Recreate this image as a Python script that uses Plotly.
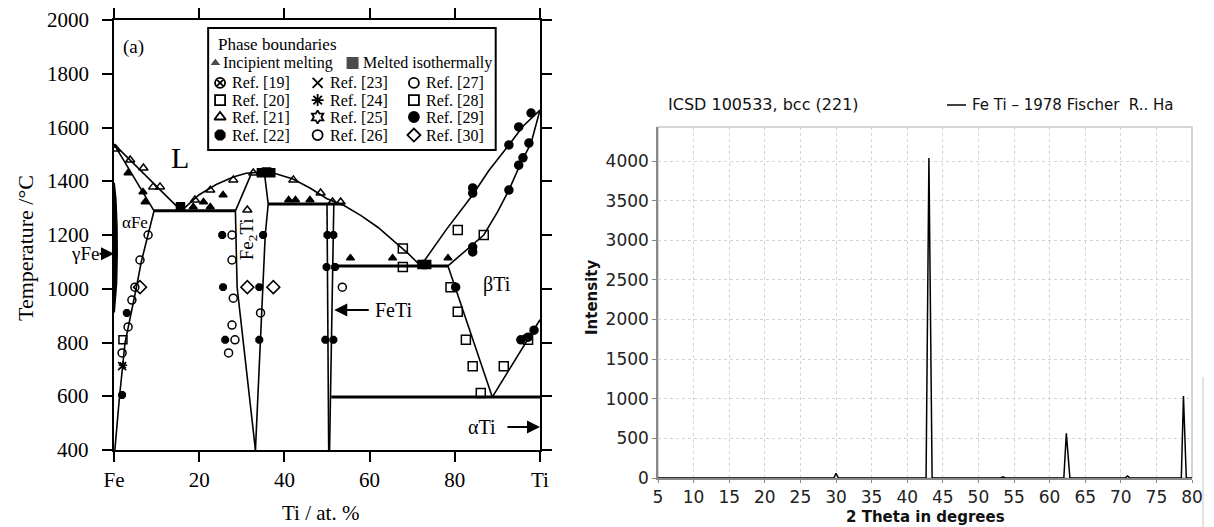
import plotly.graph_objects as go

W, H = 1214, 527


def px(x):
    return x / W


def py(y):
    return 1 - y / H


SERIF = "Liberation Serif"
SANS = "DejaVu Sans"

# ---------------- Fe–Ti phase diagram (Ti at.% , temperature °C) ----------------
temp_ticks = [400, 600, 800, 1000, 1200, 1400, 1600, 1800, 2000]
comp_ticks = [0, 20, 40, 60, 80, 100]
comp_labels = ["Fe", "20", "40", "60", "80", "Ti"]

liquidus_fe_x = [0, 4, 8, 12, 15.8]
liquidus_fe_t = [1538, 1476, 1413, 1350, 1290]
solidus_fe_x = [0, 9.4]
solidus_fe_t = [1538, 1290]
solvus_fe_x = [9.4, 8.0, 6.4, 5.2, 3.9, 2.6, 1.3, 0.2]
solvus_fe_t = [1290, 1200, 1100, 1000, 900, 800, 600, 400]
gamma_loop_x = [0, 0.4, 0.65, 0.7, 0.55, 0.3, 0]
gamma_loop_t = [1394, 1330, 1230, 1130, 1020, 950, 912]
dome_x = [15.8, 20, 24, 28, 31, 34.4, 38, 42, 46, 50, 54, 58, 62, 66, 69, 72]
dome_t = [1290, 1350, 1388, 1416, 1430, 1434, 1428, 1408, 1375, 1335, 1310, 1272, 1228, 1172, 1132, 1085]
fe2ti_left_x = [32.3, 28.5, 28.9, 33.2]
fe2ti_left_t = [1430, 1290, 1006, 400]
fe2ti_right_x = [35.3, 36.2, 35.5, 34.4, 33.2]
fe2ti_right_t = [1432, 1315, 1200, 810, 400]
feti_left_x = [50.0, 50.4]
feti_left_t = [1315, 400]
feti_right_x = [51.6, 50.6]
feti_right_t = [1315, 400]
liquidus_ti_x = [72, 78, 84, 88, 92.7, 96, 100]
liquidus_ti_t = [1085, 1220, 1345, 1440, 1535, 1605, 1665]
solidus_ti_x = [78.4, 82, 86.8, 90, 92.7, 95.5, 97.9, 100]
solidus_ti_t = [1085, 1135, 1200, 1285, 1367, 1468, 1542, 1665]
beta_solvus_x = [78.4, 88.8]
beta_solvus_t = [1085, 597]
alpha_transus_x = [88.8, 100]
alpha_transus_t = [597, 885]

# invariant isotherms
eutectic_fe2ti_x = [9.4, 28.5]
eutectic_fe2ti_t = [1290, 1290]
peritectic_feti_x = [36.2, 54.0]
peritectic_feti_t = [1315, 1315]
eutectic_feti_x = [51.5, 78.4]
eutectic_feti_t = [1085, 1085]
eutectoid_x = [51.0, 100]
eutectoid_t = [597, 597]

# ---------------- experimental points ----------------
incipient_x = [3.3, 6.8, 7.3, 18.6, 21.0, 22.6, 25.6, 41.0, 42.6, 46.0, 55.5, 65.4, 78.4]
incipient_t = [1431, 1360, 1323, 1304, 1323, 1304, 1349, 1330, 1330, 1330, 1114, 1114, 1114]
melted_x = [15.6, 34.6, 35.8, 36.8, 72.3, 73.4]
melted_t = [1305, 1432, 1434, 1432, 1090, 1090]
ref20_x = [2.1]
ref20_t = [810]
ref21_x = [0.4, 3.8, 6.9, 9.2, 10.8, 19.0, 22.6, 28.0, 32.7, 31.3, 42.1, 48.5, 51.3, 53.2]
ref21_t = [1520, 1479, 1449, 1379, 1379, 1330, 1367, 1405, 1431, 1293, 1405, 1356, 1323, 1323]
ref22_x = [1.9, 3.0, 25.4, 35.0, 25.6, 34.1, 34.1, 26.1, 50.1, 51.5, 49.9, 51.9, 49.6, 51.5]
ref22_t = [605, 910, 1200, 1200, 1006, 1006, 810, 810, 1200, 1200, 1081, 1081, 810, 810]
ref23_x = [1.9]
ref23_t = [712]
ref24_x = [2.1]
ref24_t = [715]
ref27_x = [4.9, 4.2, 3.3, 1.9, 8.0, 6.1, 27.7, 27.7, 28.0, 27.7, 26.9, 28.4, 34.4, 53.6]
ref27_t = [1006, 958, 858, 761, 1200, 1107, 1200, 1107, 965, 865, 761, 810, 910, 1006]
ref28_x = [80.7, 67.8, 86.8, 67.8, 79.0, 80.7, 82.6, 84.2, 86.1, 91.5, 97.2]
ref28_t = [1219, 1150, 1200, 1081, 1006, 914, 810, 712, 612, 712, 810]
ref29_x = [84.2, 84.2, 92.7, 95.0, 97.9, 84.2, 84.2, 92.7, 95.0, 96.0, 97.4, 80.2, 95.5, 97.2, 98.6]
ref29_t = [1375, 1356, 1535, 1602, 1654, 1155, 1137, 1367, 1460, 1487, 1542, 1006, 810, 820, 846]
ref30_x = [6.1, 31.3, 37.4]
ref30_t = [1006, 1006, 1006]

# legend entries: (label, symbol)
legend_labels = ["Ref. [19]", "Ref. [20]", "Ref. [21]", "Ref. [22]",
                 "Ref. [23]", "Ref. [24]", "Ref. [25]", "Ref. [26]",
                 "Ref. [27]", "Ref. [28]", "Ref. [29]", "Ref. [30]"]
legend_symbols = ["circle-x-open", "square-open", "triangle-up-open", "octagon",
                  "x-thin-open", "asterisk-open", "hexagram-open", "circle-open",
                  "circle-open", "square-open", "circle", "diamond-open"]

# ---------------- XRD pattern: FeTi (ICSD 100533) ----------------
two_theta = [5, 29.7, 30.0, 30.35, 42.65, 43.05, 43.5, 53.1, 53.45, 53.8,
             62.0, 62.35, 62.85, 70.6, 70.95, 71.3, 78.5, 78.8, 79.2, 80]
intensity = [0, 0, 60, 0, 0, 4040, 0, 0, 15, 0,
             0, 565, 0, 0, 25, 0, 0, 1035, 0, 0]

fig = go.Figure()


def note(text, x, y, ref="data", size=16, family=SERIF, color="black",
         xanchor="center", angle=0, xref=None, yref=None):
    if ref == "data":
        xr, yr = "x", "y"
    else:
        xr, yr = "paper", "paper"
    fig.add_annotation(x=x, y=y, xref=xref or xr, yref=yref or yr, text=text,
                       showarrow=False, xanchor=xanchor, yanchor="middle",
                       textangle=angle,
                       font=dict(family=family, size=size, color=color))


def boundary(xs, ts, width=1.6):
    fig.add_trace(go.Scatter(x=xs, y=ts, mode="lines", xaxis="x", yaxis="y",
                             line=dict(color="black", width=width),
                             showlegend=False, hoverinfo="skip"))


for xs, ts in [(liquidus_fe_x, liquidus_fe_t), (solidus_fe_x, solidus_fe_t),
               (solvus_fe_x, solvus_fe_t), (dome_x, dome_t),
               (fe2ti_left_x, fe2ti_left_t), (fe2ti_right_x, fe2ti_right_t),
               (feti_left_x, feti_left_t), (feti_right_x, feti_right_t),
               (liquidus_ti_x, liquidus_ti_t), (solidus_ti_x, solidus_ti_t),
               (beta_solvus_x, beta_solvus_t), (alpha_transus_x, alpha_transus_t)]:
    boundary(xs, ts)

for xs, ts in [(eutectic_fe2ti_x, eutectic_fe2ti_t), (peritectic_feti_x, peritectic_feti_t),
               (eutectic_feti_x, eutectic_feti_t), (eutectoid_x, eutectoid_t)]:
    boundary(xs, ts, width=3)

fig.add_trace(go.Scatter(x=gamma_loop_x, y=gamma_loop_t, mode="lines", fill="toself",
                         fillcolor="black", line=dict(color="black", width=2),
                         xaxis="x", yaxis="y", showlegend=False, hoverinfo="skip"))


def points(xs, ts, symbol, size=8, lw=1.5):
    fig.add_trace(go.Scatter(x=xs, y=ts, mode="markers", xaxis="x", yaxis="y",
                             marker=dict(symbol=symbol, size=size, color="black",
                                         line=dict(color="black", width=lw)),
                             showlegend=False, hoverinfo="skip"))


points(incipient_x, incipient_t, "triangle-up", 7)
points(melted_x, melted_t, "square", 8)
points(ref20_x, ref20_t, "square-open", 8)
points(ref21_x, ref21_t, "triangle-up-open", 8)
points(ref22_x, ref22_t, "octagon", 7)
points(ref23_x, ref23_t, "x-thin-open", 8)
points(ref24_x, ref24_t, "asterisk-open", 7)
points(ref27_x, ref27_t, "circle-open", 8)
points(ref28_x, ref28_t, "square-open", 9)
points(ref29_x, ref29_t, "circle", 8)
points(ref30_x, ref30_t, "diamond-open", 10)

# ---- legend block inside the diagram ----
fig.add_shape(type="rect", xref="x", yref="y", x0=22.1, x1=89.6, y0=1516, y1=1970,
              line=dict(color="black", width=2), fillcolor="white", layer="below")

legend_col_x = [24.9, 47.8, 70.4]
legend_row_t = [1766, 1702, 1639, 1572]
sym_x, sym_t, sym_s = [], [], []
for i, (lab, sym) in enumerate(zip(legend_labels, legend_symbols)):
    c, r = divmod(i, 4)
    sym_x.append(legend_col_x[c])
    sym_t.append(legend_row_t[r])
    sym_s.append(sym)
    note(lab, legend_col_x[c] + 2.4, legend_row_t[r], size=16, xanchor="left")
fig.add_trace(go.Scatter(x=sym_x, y=sym_t, mode="markers", xaxis="x", yaxis="y",
                         marker=dict(symbol=sym_s, size=10, color="black",
                                     line=dict(color="black", width=1.8)),
                         showlegend=False, hoverinfo="skip"))
fig.add_trace(go.Scatter(x=[23.8, 56.0], y=[1840, 1840], mode="markers", xaxis="x", yaxis="y",
                         marker=dict(symbol=["triangle-up", "square"], size=[10, 13],
                                     color="black"),
                         showlegend=False, hoverinfo="skip"))
note("Phase boundaries", 24.0, 1907, size=17, xanchor="left")
note("Incipient melting", 25.0, 1840, size=16, xanchor="left")
note("Melted isothermally", 58.0, 1840, size=16, xanchor="left")

# ---- phase labels ----
note("(a)", 4.5, 1900, size=19)
note("L", 15.5, 1488, size=30)
note("αFe", 4.9, 1245, size=17)
note("βTi", 89.9, 1014, size=20)
note("αTi", 86.4, 486, size=20)
note("Fe<sub>2</sub>Ti", 31.5, 1185, size=19, angle=-90)
note("FeTi", 60.7, 921, size=20, xanchor="left")
note("γFe", px(101), py(254), ref="paper", size=19, xanchor="right")

# arrows
for x, t, ax in [(0, 1130, -16), (51.7, 921, 36), (100, 486, -34)]:
    fig.add_annotation(x=x, y=t, xref="x", yref="y", ax=ax, ay=0, text="",
                       showarrow=True, arrowhead=2, arrowsize=1.3, arrowwidth=2,
                       arrowcolor="black")

# temperature tick labels, set a little away from the ticks
for t in temp_ticks:
    note(str(t), px(91), t, size=21, xanchor="right", xref="paper", yref="y")

# axis titles
note("Ti / at. %", px(320), py(513), ref="paper", size=21)
note("Temperature /°C", px(25), py(248), ref="paper", size=22, angle=-90)

# ---------------- XRD trace ----------------
fig.add_trace(go.Scatter(x=two_theta, y=intensity, mode="lines", xaxis="x2", yaxis="y2",
                         line=dict(color="black", width=1.5),
                         showlegend=False, hoverinfo="skip"))

fig.add_shape(type="rect", xref="paper", yref="paper", x0=px(658), x1=px(1192),
              y0=py(478), y1=py(127), line=dict(color="#c8c8c8", width=1.5), layer="below")
fig.add_shape(type="line", xref="paper", yref="paper", x0=px(947), x1=px(966),
              y0=py(105), y1=py(105), line=dict(color="black", width=1.5))
fig.add_shape(type="line", xref="paper", yref="paper", x0=px(1203), x1=px(1203),
              y0=py(377), y1=0, line=dict(color="#d8d8d8", width=1.5))
note("ICSD 100533, bcc (221)", px(666), py(105), ref="paper", size=16, family=SANS,
     color="#111", xanchor="left")
note("Fe Ti – 1978 Fischer  R.. Ha", px(970), py(105), ref="paper", size=15, family=SANS,
     color="#111", xanchor="left")
note("<b>2 Theta in degrees</b>", px(925), py(517), ref="paper", size=15, family=SANS,
     color="#111")
note("<b>Intensity</b>", px(592), py(297), ref="paper", size=15, family=SANS,
     color="#111", angle=-90)

serif_ticks = dict(family=SERIF, size=21, color="black")
sans_ticks = dict(family=SANS, size=17, color="#222")

fig.update_layout(
    width=W, height=H, margin=dict(l=0, r=0, t=0, b=0, pad=0),
    paper_bgcolor="white", plot_bgcolor="white",
    xaxis=dict(domain=[px(114), px(540)], range=[0, 100], automargin=False,
               tickvals=comp_ticks, ticktext=comp_labels,
               showline=True, linecolor="black", linewidth=2, mirror="ticks",
               ticks="outside", ticklen=10, tickwidth=2, tickcolor="black",
               showgrid=False, zeroline=False, tickfont=serif_ticks,
               ticklabelstandoff=0),
    yaxis=dict(domain=[py(450), py(20)], range=[400, 2000], tickvals=temp_ticks,
               automargin=False, showticklabels=False,
               showline=True, linecolor="black", linewidth=2, mirror="ticks",
               ticks="outside", ticklen=10, tickwidth=2, tickcolor="black",
               showgrid=False, zeroline=False),
    xaxis2=dict(domain=[px(658), px(1192)], range=[5, 80], dtick=5, anchor="y2",
                automargin=False,
                showline=True, linecolor="#888", linewidth=1.5,
                ticks="outside", ticklen=3, tickcolor="#888",
                showgrid=True, gridcolor="#d4d4d4", griddash="dot", gridwidth=1,
                zeroline=False, tickfont=sans_ticks),
    yaxis2=dict(domain=[py(478), py(127)], range=[0, 4430], dtick=500, anchor="x2",
                automargin=False,
                showline=True, linecolor="#888", linewidth=1.5,
                ticks="outside", ticklen=4, tickcolor="#888",
                showgrid=True, gridcolor="#d4d4d4", griddash="dot", gridwidth=1,
                zeroline=False, tickfont=sans_ticks),
)

fig.write_html("out.html")
